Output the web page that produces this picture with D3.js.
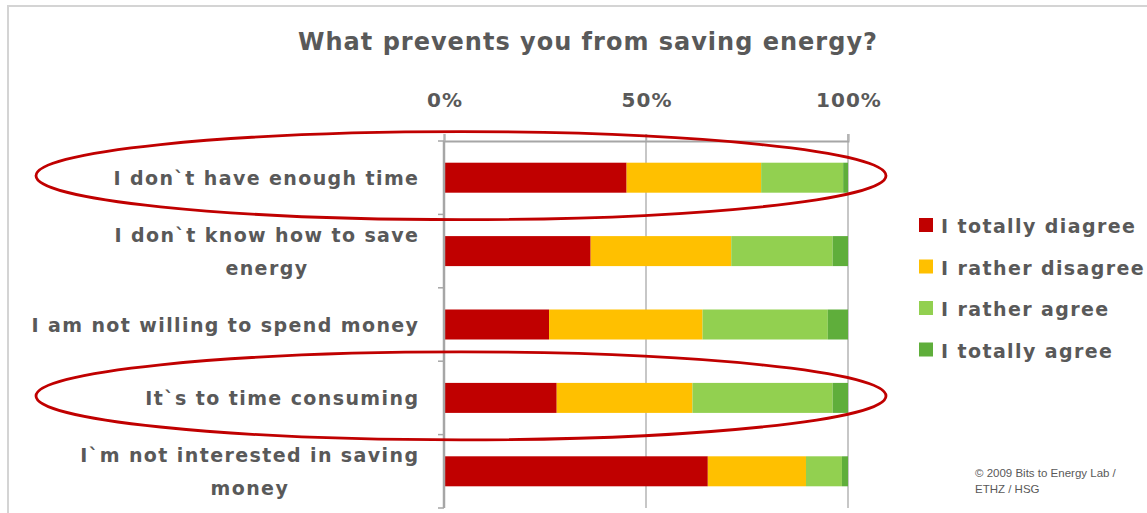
<html>
<head>
    <title>What prevents you from saving energy?</title>
    <script src="https://d3js.org/d3.v7.min.js" charSet="utf-8"></script>
    <style>
        body { margin: 0; background: #fff; }
        text { font-family: "DejaVu Sans", Verdana, sans-serif; font-weight: bold; fill: #595959; }
    </style>
</head>
<body>
<div id="vis_container"></div>
<script>
    // categories (top to bottom) and the share of each answer
    let categories = [
        "I don`t have enough time",
        "I don`t know how to save energy",
        "I am not willing to spend money",
        "It`s to time consuming",
        "I`m not interested in saving money"
    ];
    // label lines as they wrap in the original
    let label_lines = [
        ["I don`t have enough time"],
        ["I don`t know how to save", "energy"],
        ["I am not willing to spend money"],
        ["It`s to time consuming"],
        ["I`m not interested in saving", "money"]
    ];
    let series_names = ["I totally diagree", "I rather disagree", "I rather agree", "I totally agree"];
    let totally_disagree = [45.2, 36.3, 26.0, 27.9, 65.3];
    let rather_disagree  = [33.3, 34.8, 38.0, 33.6, 24.3];
    let rather_agree     = [20.3, 25.1, 31.0, 34.7, 8.9];
    let totally_agree    = [1.2, 3.8, 5.0, 3.8, 1.5];
    let tick_values = [0, 50, 100];
    let highlighted = [0, 3];

    let colors = ["#c00000", "#ffc000", "#92d050", "#5fae3b"];

    let width = 1147, height = 513;
    let svg = d3.select("#vis_container").append("svg")
        .attr("width", width).attr("height", height);

    // outer frame
    svg.append("rect").attr("x", 8).attr("y", 6)
        .attr("width", 1200).attr("height", 600)
        .attr("fill", "none").attr("stroke", "#d4d4d4").attr("stroke-width", 2);

    svg.append("text").attr("x", 588).attr("y", 50)
        .attr("text-anchor", "middle").style("font-size", "24px")
        .style("letter-spacing", "1px")
        .text("What prevents you from saving energy?");

    let x = d3.scaleLinear().domain([0, 100]).range([444, 848]);
    let y = d3.scaleBand().domain(categories).range([141, 508]).padding(0);
    let bar_h = 30;

    // stacked data
    let rows = categories.map(function(c, i) {
        return {cat: c, v: [totally_disagree[i], rather_disagree[i], rather_agree[i], totally_agree[i]]};
    });
    let stack = d3.stack().keys([0, 1, 2, 3]).value(function(d, k) { return d.v[k]; });
    let stacked = stack(rows);

    // gridlines
    svg.append("g").selectAll("line").data(tick_values.slice(1))
        .enter().append("line")
        .attr("x1", function(d) { return x(d); }).attr("x2", function(d) { return x(d); })
        .attr("y1", 134).attr("y2", 508)
        .attr("stroke", "#b4b4b4").attr("stroke-width", 1.5);

    // top axis
    let xAxis = svg.append("g").attr("transform", "translate(0,141)")
        .call(d3.axisTop(x).tickValues(tick_values).tickSize(7).tickFormat(""));
    xAxis.select(".domain").attr("stroke", "#a6a6a6").attr("stroke-width", 2);
    xAxis.selectAll(".tick line").attr("stroke", "#b4b4b4").attr("stroke-width", 1.5);

    svg.append("g").selectAll("text").data(tick_values)
        .enter().append("text")
        .attr("x", function(d) { return x(d) + 1; }).attr("y", 107)
        .attr("text-anchor", "middle").style("font-size", "20px")
        .style("letter-spacing", "1px")
        .text(function(d) { return d + "%"; });

    // bars
    svg.append("g").selectAll("g").data(stacked)
        .enter().append("g")
        .attr("fill", function(d, i) { return colors[i]; })
        .selectAll("rect").data(function(d) { return d; })
        .enter().append("rect")
        .attr("x", function(d) { return x(d[0]); })
        .attr("width", function(d) { return x(d[1]) - x(d[0]); })
        .attr("y", function(d) { return y(d.data.cat) + (y.bandwidth() - bar_h) / 2; })
        .attr("height", bar_h);

    // left axis with ticks between categories
    let yAxis = svg.append("g").attr("transform", "translate(444,0)");
    yAxis.append("line").attr("x1", 0).attr("x2", 0).attr("y1", 141).attr("y2", 508)
        .attr("stroke", "#a6a6a6").attr("stroke-width", 2.5);
    let bounds = categories.map(function(c) { return y(c); }).concat([y.range()[1]]);
    yAxis.selectAll("line.tk").data(bounds).enter().append("line")
        .attr("class", "tk")
        .attr("x1", -6).attr("x2", 0)
        .attr("y1", function(d) { return d; }).attr("y2", function(d) { return d; })
        .attr("stroke", "#a6a6a6").attr("stroke-width", 1.5);

    // category labels
    let line_h = 33;
    label_lines.forEach(function(lines, i) {
        let cy = y(categories[i]) + y.bandwidth() / 2;
        let g = svg.append("g");
        let texts = g.selectAll("text").data(lines).enter().append("text")
            .style("font-size", "19px")
            .style("letter-spacing", "1.4px")
            .attr("text-anchor", "middle")
            .attr("y", function(d, j) { return cy + 7 + (j - (lines.length - 1) / 2) * line_h; })
            .text(function(d) { return d; });
        let maxw = 0;
        texts.each(function() { maxw = Math.max(maxw, this.getComputedTextLength()); });
        texts.attr("x", 419.4 - maxw / 2);
    });

    // highlight ellipses
    svg.append("g").selectAll("ellipse").data(highlighted)
        .enter().append("ellipse")
        .attr("cx", 461)
        .attr("cy", function(d) { return y(categories[d]) + y.bandwidth() / 2 - 2; })
        .attr("rx", 425).attr("ry", 44)
        .attr("fill", "none").attr("stroke", "#c00000").attr("stroke-width", 2.8);

    // legend
    let legend = svg.append("g").selectAll("g").data(series_names)
        .enter().append("g")
        .attr("transform", function(d, i) { return "translate(919," + (218 + i * 41.5) + ")"; });
    legend.append("rect").attr("width", 14).attr("height", 14)
        .attr("fill", function(d, i) { return colors[i]; });
    legend.append("text").attr("x", 22).attr("y", 15)
        .style("font-size", "19px").style("letter-spacing", "1.4px")
        .text(function(d) { return d; });

    // source note
    svg.append("text").attr("x", 975).attr("y", 477)
        .style("font-family", "'Liberation Sans', Arial, sans-serif")
        .style("font-size", "11.5px").style("font-weight", "normal")
        .text("© 2009 Bits to Energy Lab /");
    svg.append("text").attr("x", 975).attr("y", 493)
        .style("font-family", "'Liberation Sans', Arial, sans-serif")
        .style("font-size", "11.5px").style("font-weight", "normal")
        .text("ETHZ / HSG");
</script>
</body>
</html>
